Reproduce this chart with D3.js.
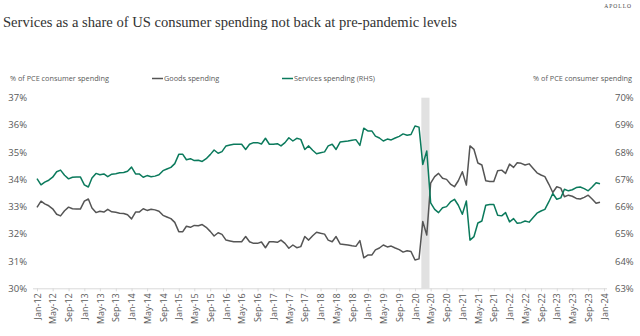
<!DOCTYPE html>
<html>
<head>
<meta charset="utf-8">
<script src="https://cdn.jsdelivr.net/npm/d3@7"></script>
<style>
  body { margin: 0; background: #fff; }
  svg { display: block; }
  text { font-family: "Open Sans", "Noto Sans", sans-serif; fill: #595959; }
</style>
</head>
<body>
<div id="chart"></div>
<script>
// Goods vs services share of PCE, monthly Jan-12 .. Dec-23

var goods = [
  32.97, 33.20, 33.10, 33.03, 32.92, 32.72, 32.66, 32.85, 32.98, 32.92, 32.91, 32.91,
  33.20, 33.28, 32.95, 32.78, 32.83, 32.80, 32.90, 32.81, 32.79, 32.76, 32.75, 32.70,
  32.55, 32.80, 32.80, 32.92, 32.86, 32.90, 32.88, 32.83, 32.68, 32.62, 32.56, 32.42,
  32.08, 32.08, 32.28, 32.24, 32.31, 32.30, 32.34, 32.24, 32.09, 31.92, 32.04, 31.98,
  31.77, 31.74, 31.71, 31.71, 31.71, 31.90, 31.71, 31.65, 31.65, 31.70, 31.49, 31.71,
  31.71, 31.69, 31.77, 31.65, 31.47, 31.59, 31.49, 31.53, 31.90, 31.77, 31.93, 32.06,
  32.02, 31.99, 31.77, 31.71, 31.90, 31.63, 31.61, 31.59, 31.56, 31.54, 31.75, 31.12,
  31.22, 31.22, 31.41, 31.48, 31.59, 31.52, 31.55, 31.48, 31.42, 31.33, 31.38, 31.35,
  31.04, 31.08, 32.45, 31.96, 33.86, 34.10, 34.22, 34.04, 34.00, 33.83, 33.73, 33.95,
  34.28, 33.79, 35.23, 35.10, 34.60, 34.53, 33.95, 33.92, 33.92, 34.32, 34.34, 34.22,
  34.56, 34.44, 34.61, 34.59, 34.53, 34.57, 34.41, 34.24, 34.16, 34.10, 33.82, 33.52,
  33.73, 33.68, 33.36, 33.42, 33.38, 33.30, 33.28, 33.34, 33.42, 33.28, 33.12, 33.16
];

var services = [
  67.03, 66.80, 66.90, 66.97, 67.08, 67.28, 67.34, 67.15, 67.02, 67.08, 67.09, 67.09,
  66.80, 66.72, 67.05, 67.22, 67.17, 67.20, 67.10, 67.19, 67.21, 67.24, 67.25, 67.30,
  67.45, 67.20, 67.20, 67.08, 67.14, 67.10, 67.12, 67.17, 67.32, 67.38, 67.44, 67.58,
  67.92, 67.92, 67.72, 67.76, 67.69, 67.70, 67.66, 67.76, 67.91, 68.08, 67.96, 68.02,
  68.23, 68.26, 68.29, 68.29, 68.29, 68.10, 68.29, 68.35, 68.35, 68.30, 68.51, 68.29,
  68.29, 68.31, 68.23, 68.35, 68.53, 68.41, 68.51, 68.47, 68.10, 68.23, 68.07, 67.94,
  67.98, 68.01, 68.23, 68.29, 68.10, 68.37, 68.39, 68.41, 68.44, 68.46, 68.25, 68.88,
  68.78, 68.78, 68.59, 68.52, 68.41, 68.48, 68.45, 68.52, 68.58, 68.67, 68.62, 68.65,
  68.96, 68.92, 67.55, 68.04, 66.14, 65.90, 65.78, 65.96, 66.00, 66.17, 66.27, 66.05,
  65.72, 66.21, 64.77, 64.90, 65.40, 65.47, 66.05, 66.08, 66.08, 65.68, 65.66, 65.78,
  65.44, 65.56, 65.39, 65.41, 65.47, 65.43, 65.59, 65.76, 65.84, 65.90, 66.18, 66.48,
  66.27, 66.32, 66.64, 66.58, 66.62, 66.70, 66.72, 66.66, 66.58, 66.72, 66.88, 66.84
];

var xTickLabels = [
  "Jan-12","May-12","Sep-12","Jan-13","May-13","Sep-13","Jan-14","May-14","Sep-14",
  "Jan-15","May-15","Sep-15","Jan-16","May-16","Sep-16","Jan-17","May-17","Sep-17",
  "Jan-18","May-18","Sep-18","Jan-19","May-19","Sep-19","Jan-20","May-20","Sep-20",
  "Jan-21","May-21","Sep-21","Jan-22","May-22","Sep-22","Jan-23","May-23","Sep-23","Jan-24"
];
var leftTicks = [30, 31, 32, 33, 34, 35, 36, 37];
var rightTicks = [63, 64, 65, 66, 67, 68, 69, 70];
var recession = ["2020-02-19", "2020-04-22"];

var width = 640, height = 336,
    margin = {top: 97.7, right: 36, bottom: 47.7, left: 37},
    innerW = width - margin.left - margin.right,
    innerH = height - margin.top - margin.bottom;

var svg = d3.select("#chart").append("svg")
    .attr("width", width).attr("height", height);

// titles
svg.append("text").attr("x", 3).attr("y", 27)
    .style("font-family", "'Liberation Serif', 'DejaVu Serif', serif")
    .style("font-size", "14.6px").style("fill", "#333")
    .text("Services as a share of US consumer spending not back at pre-pandemic levels");
svg.append("text").attr("x", 632).attr("y", 8).attr("text-anchor", "end")
    .style("font-family", "'Liberation Serif', serif")
    .style("font-size", "5.5px").style("letter-spacing", "1px").style("fill", "#444")
    .text("APOLLO");

svg.append("text").attr("x", 10).attr("y", 81).style("font-size", "7.3px")
    .text("% of PCE consumer spending");
svg.append("text").attr("x", 632).attr("y", 81).attr("text-anchor", "end").style("font-size", "7.3px")
    .text("% of PCE consumer spending");

var g = svg.append("g").attr("transform", "translate(" + margin.left + "," + margin.top + ")");

var parseMonth = d3.timeParse("%b-%y");
var months = d3.timeMonth.range(new Date(2012, 0, 1), new Date(2024, 0, 1));

var x = d3.scaleTime()
    .domain([new Date(2012, 0, 1), new Date(2024, 0, 1)])
    .range([0, innerW]);
var yL = d3.scaleLinear().domain([30, 37]).range([innerH, 0]);
var yR = d3.scaleLinear().domain([63, 70]).range([innerH, 0]);

// recession shading
var parseDay = d3.timeParse("%Y-%m-%d");
g.append("rect")
    .attr("x", x(parseDay(recession[0])))
    .attr("width", x(parseDay(recession[1])) - x(parseDay(recession[0])))
    .attr("y", 0).attr("height", innerH)
    .style("fill", "#e1e1e1");

// x axis
var xAxis = g.append("g")
    .attr("transform", "translate(0," + innerH + ")")
    .call(d3.axisBottom(x)
        .tickValues(xTickLabels.map(parseMonth))
        .tickFormat(d3.timeFormat("%b-%y"))
        .tickSize(3).tickSizeOuter(0));
xAxis.select(".domain").attr("stroke", "#d9d9d9").attr("d", "M-4,0.5H" + (innerW + 3));
xAxis.selectAll(".tick line").attr("stroke", "#d9d9d9");
xAxis.selectAll(".tick text")
    .attr("transform", "rotate(-90)")
    .attr("x", -5).attr("y", 0).attr("dy", "0.35em")
    .style("text-anchor", "end")
    .style("font-size", "9px").style("fill", "#595959")
    .style("font-family", "'Open Sans', sans-serif");

// y axes
var axL = g.append("g").attr("transform", "translate(-8,0)")
    .call(d3.axisLeft(yL).tickValues(leftTicks).tickSize(0).tickPadding(2)
        .tickFormat(function(d) { return d + "%"; }));
var axR = g.append("g").attr("transform", "translate(" + (innerW + 8) + ",0)")
    .call(d3.axisRight(yR).tickValues(rightTicks).tickSize(0).tickPadding(3)
        .tickFormat(function(d) { return d + "%"; }));
[axL, axR].forEach(function(a) {
  a.select(".domain").remove();
  a.selectAll("text").style("font-size", "9.5px").style("fill", "#595959")
      .style("font-family", "'Open Sans', sans-serif");
});

// lines
var goodsLine = d3.line().x(function(d, i) { return x(months[i]); }).y(function(d) { return yL(d); });
var servLine = d3.line().x(function(d, i) { return x(months[i]); }).y(function(d) { return yR(d); });

g.append("path").datum(goods).attr("d", goodsLine)
    .attr("fill", "none").attr("stroke", "#555555").attr("stroke-width", 1.5)
    .attr("stroke-linejoin", "round");
g.append("path").datum(services).attr("d", servLine)
    .attr("fill", "none").attr("stroke", "#0b7a5c").attr("stroke-width", 1.5)
    .attr("stroke-linejoin", "round");

// legend
var legend = [
  {name: "Goods spending", color: "#555555", x: 152},
  {name: "Services spending (RHS)", color: "#0b7a5c", x: 282}
];
legend.forEach(function(d) {
  svg.append("line").attr("x1", d.x).attr("x2", d.x + 11).attr("y1", 78.5).attr("y2", 78.5)
      .attr("stroke", d.color).attr("stroke-width", 1.5);
  svg.append("text").attr("x", d.x + 12).attr("y", 81).style("font-size", "7.3px").text(d.name);
});
</script>
</body>
</html>
